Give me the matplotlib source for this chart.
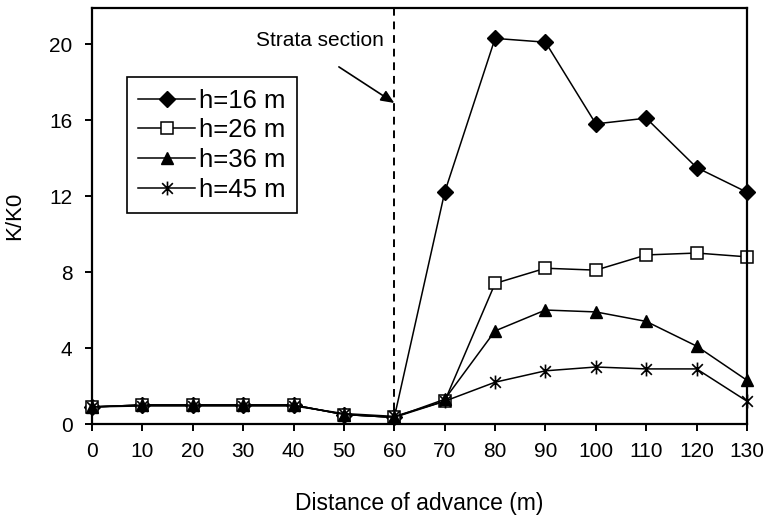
import matplotlib
matplotlib.use('Agg')
import matplotlib.pyplot as plt
from matplotlib.path import Path

plt.rcParams['font.family'] = ['Liberation Sans', 'DejaVu Sans']

x = [0, 10, 20, 30, 40, 50, 60, 70, 80, 90, 100, 110, 120, 130]
h16 = [0.9, 1.0, 1.0, 1.0, 1.0, 0.5, 0.35, 12.2, 20.3, 20.1, 15.8, 16.1, 13.5, 12.2]
h26 = [0.9, 1.0, 1.0, 1.0, 1.0, 0.5, 0.35, 1.2, 7.4, 8.2, 8.1, 8.9, 9.0, 8.8]
h36 = [0.9, 1.0, 1.0, 1.0, 1.0, 0.5, 0.35, 1.3, 4.9, 6.0, 5.9, 5.4, 4.1, 2.3]
h45 = [0.9, 0.95, 0.95, 0.95, 0.95, 0.55, 0.4, 1.2, 2.2, 2.8, 3.0, 2.9, 2.9, 1.2]

# asterisk marker like the excel one: x plus a vertical bar
star = Path([(-1, -1), (1, 1), (-1, 1), (1, -1), (0, -1.3), (0, 1.3)],
            [Path.MOVETO, Path.LINETO, Path.MOVETO, Path.LINETO, Path.MOVETO, Path.LINETO])

fig = plt.figure(figsize=(7.68, 5.16), dpi=100)
ax = fig.add_axes([92/768, 92/516, 655/768, 416/516])

ax.plot(x, h16, 'k-', marker='D', ms=8.5, mfc='k', lw=1.1, clip_on=False, label='h=16 m')
ax.plot(x, h26, 'k-', marker='s', ms=8.5, mfc='white', mew=1.1, lw=1.1, clip_on=False, label='h=26 m')
ax.plot(x, h36, 'k-', marker='^', ms=9, mfc='k', lw=1.1, clip_on=False, label='h=36 m')
ax.plot(x, h45, 'k-', marker=star, ms=10, mfc='none', mew=1.2, lw=1.1, clip_on=False, label='h=45 m')

ax.axvline(60, color='k', ls=(0, (4, 3)), lw=1.4)
ax.text(58, 20.2, 'Strata section', ha='right', va='center', fontsize=15)
ax.annotate('', xy=(60, 16.9), xytext=(49, 18.8),
            arrowprops=dict(arrowstyle='-|>,head_length=0.8,head_width=0.35', color='k', lw=1.2,
                            shrinkA=0, shrinkB=0))

ax.set_xlim(0, 130)
ax.set_ylim(0, 21.9)
ax.set_xticks(x)
ax.set_yticks([0, 4, 8, 12, 16, 20])
ax.tick_params(labelsize=15, direction='out', length=5, width=1.4)
ax.tick_params(axis='x', pad=8)
ax.tick_params(axis='y', pad=9)
for s in ax.spines.values():
    s.set_linewidth(1.6)

ax.set_xlabel('Distance of advance (m)', fontsize=16.5, labelpad=22)
ax.set_ylabel('K/K0', fontsize=16)
ax.yaxis.set_label_coords(-0.102, 0.5)

leg = ax.legend(loc='upper left', bbox_to_anchor=(0.053, 0.834), borderaxespad=0,
                fontsize=18.5, frameon=True, fancybox=False, edgecolor='k',
                handlelength=2.2, handletextpad=0.15, labelspacing=0.22, borderpad=0.45)
leg.get_frame().set_linewidth(1.2)
leg.get_frame().set_alpha(1)

fig.savefig('out.png', dpi=100)
